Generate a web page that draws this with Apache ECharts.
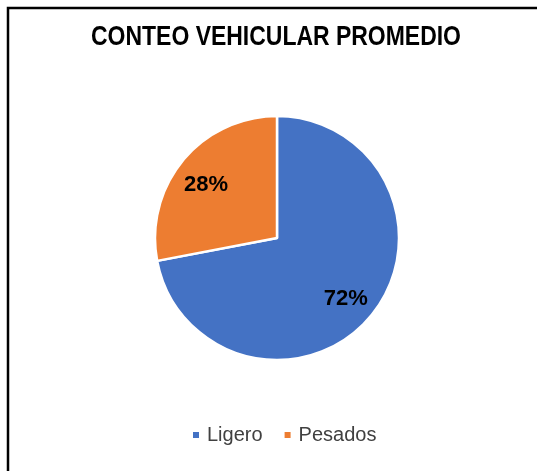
<!DOCTYPE html>
<html>
<head>
<meta charset="utf-8">
<script src="https://cdn.jsdelivr.net/npm/echarts@6/dist/echarts.min.js"></script>
<style>
  html, body { margin: 0; padding: 0; background: #fff; }
  #chart { width: 537px; height: 471px; }
</style>
</head>
<body>
<div id="chart"></div>
<script>
// data
const chartTitle = 'CONTEO VEHICULAR PROMEDIO';
const categories = ['Ligero', 'Pesados'];
const shares = [72, 28];
const colors = ['#4472C4', '#ED7D31'];

const sans = "'Liberation Sans', Arial, sans-serif";

const pieData = categories.map((name, i) => ({
  name: name,
  value: shares[i],
  itemStyle: { color: colors[i] }
}));

const chart = echarts.init(document.getElementById('chart'), null, { renderer: 'canvas' });

const option = {
  animation: false,
  backgroundColor: '#fff',
  legend: {
    data: categories,
    left: 191,
    top: 425,
    padding: 0,
    itemWidth: 8,
    itemHeight: 8,
    itemGap: 20,
    icon: 'rect',
    textStyle: {
      fontFamily: sans,
      fontSize: 20,
      color: '#404040',
      padding: [0, 0, 0, 2]
    }
  },
  graphic: [
    {
      // outer frame (only top and left edges are in view)
      type: 'rect',
      shape: { x: 8, y: 8, width: 600, height: 600 },
      style: { fill: 'none', stroke: '#000', lineWidth: 2.5 },
      silent: true,
      z: 100
    },
    {
      // title, squeezed horizontally to look like a narrow face
      type: 'text',
      x: 276,
      y: 37,
      scaleX: 0.82,
      silent: true,
      style: {
        text: chartTitle,
        x: 0,
        y: 0,
        align: 'center',
        verticalAlign: 'middle',
        font: "bold 28px 'Liberation Sans', Arial, sans-serif",
        fill: '#000'
      }
    }
  ],
  series: [
    {
      type: 'pie',
      center: [277, 238],
      radius: [0, 122],
      startAngle: 90,
      clockwise: true,
      data: pieData,
      label: { show: false },
      labelLine: { show: false },
      itemStyle: { borderColor: '#fff', borderWidth: 2.5 }
    },
    {
      // transparent ring only used to place the percentage labels
      type: 'pie',
      silent: true,
      center: [277, 238],
      radius: [56, 122],
      startAngle: 90,
      clockwise: true,
      data: pieData.map(d => ({ name: d.name, value: d.value, itemStyle: { color: 'rgba(0,0,0,0)' } })),
      itemStyle: { borderWidth: 0 },
      label: {
        show: true,
        position: 'inside',
        formatter: '{c}%',
        fontFamily: sans,
        fontWeight: 'bold',
        fontSize: 22,
        color: '#000'
      },
      labelLine: { show: false },
      labelLayout: function (params) {
        return params.dataIndex === 1 ? { dy: 6 } : { dx: -2, dy: 2 };
      }
    }
  ]
};

chart.setOption(option);
</script>
</body>
</html>
